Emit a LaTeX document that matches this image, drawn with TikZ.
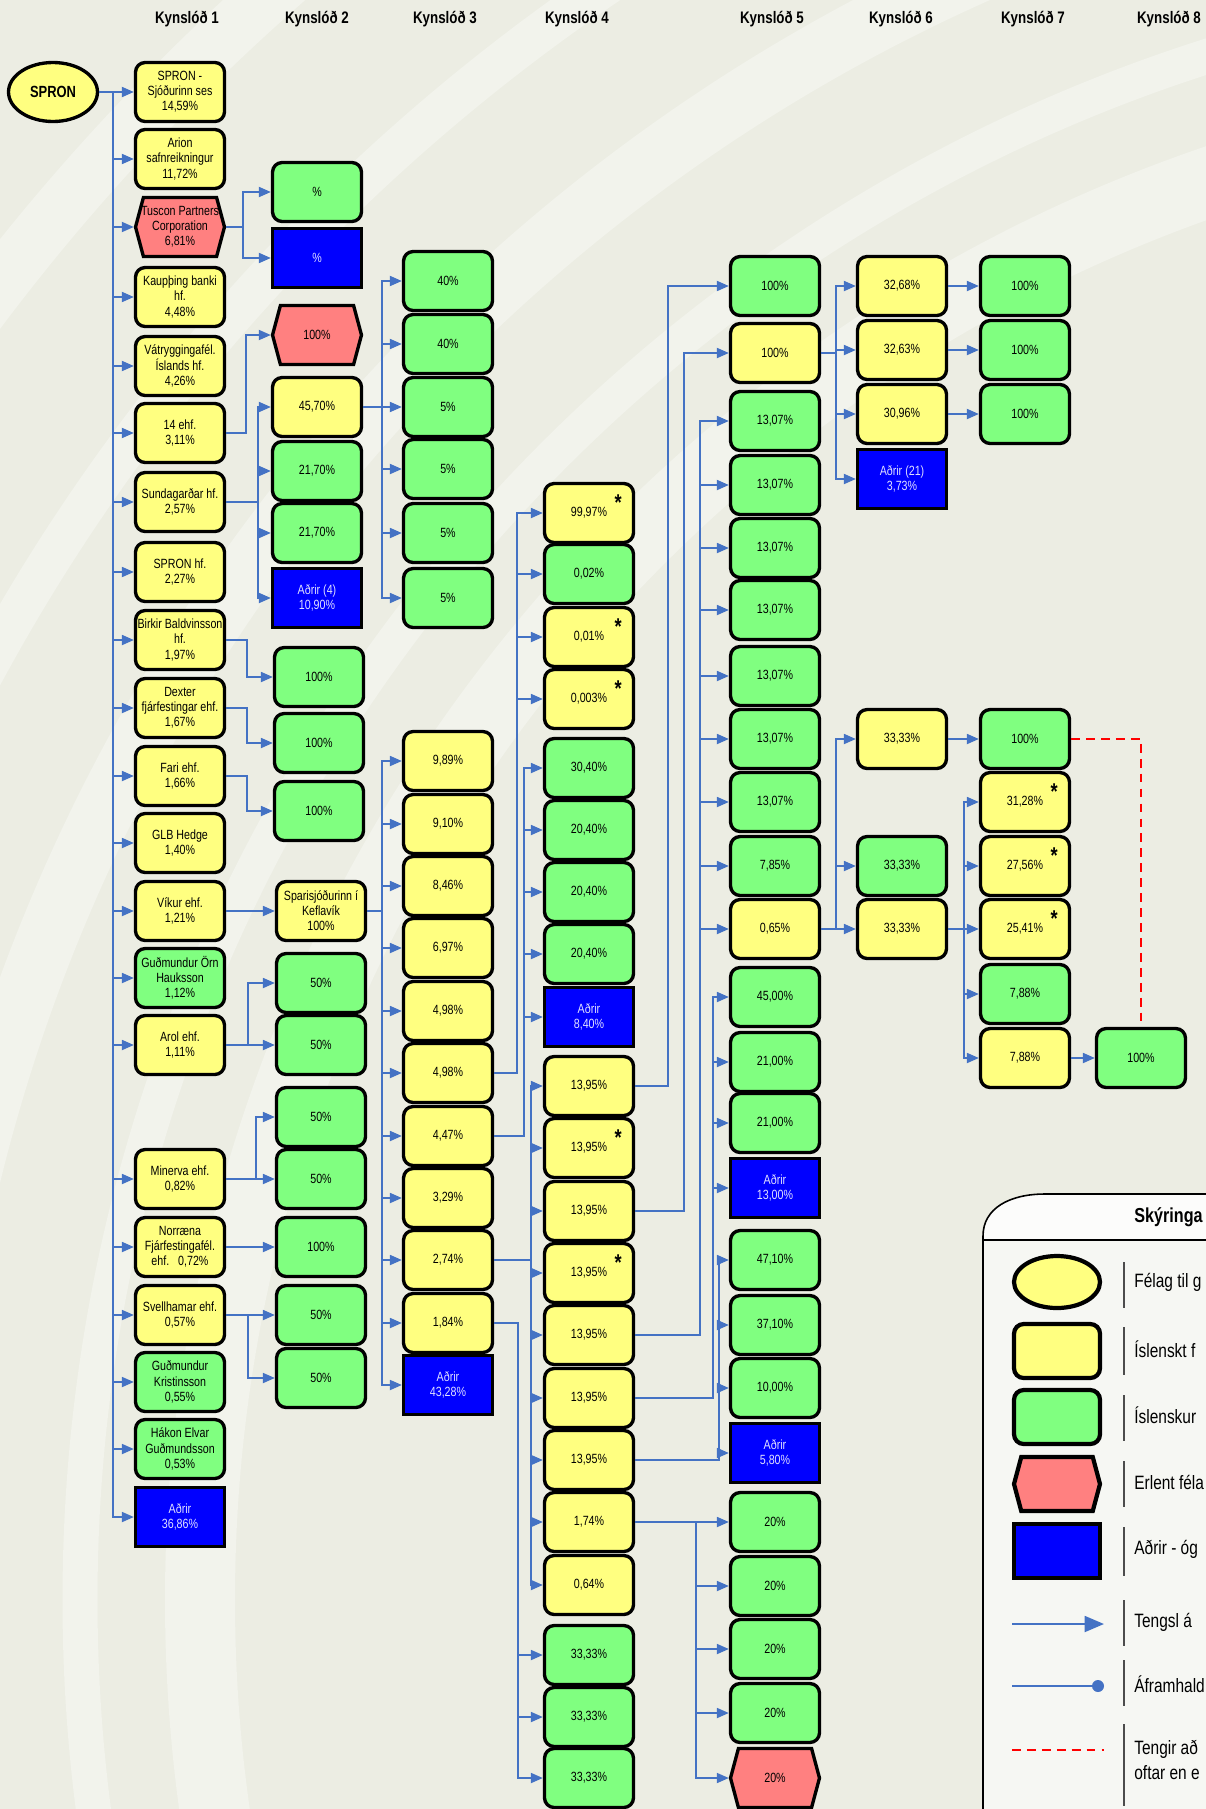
\documentclass[tikz,border=0pt]{standalone}
\usepackage{fontspec}
\setmainfont[FakeStretch=0.8]{Liberation Sans}
\usetikzlibrary{arrows.meta,shapes.geometric,shapes.symbols}
\definecolor{bgc}{RGB}{236,237,227}
\definecolor{bgl}{RGB}{242,243,236}
\definecolor{gul}{RGB}{255,255,128}
\definecolor{gra}{RGB}{128,255,128}
\definecolor{rau}{RGB}{255,128,128}
\definecolor{bla}{RGB}{0,0,255}
\definecolor{lin}{RGB}{68,114,196}

\begin{document}
\begin{tikzpicture}[x=0.02cm,y=-0.02cm,
  box/.style={draw=black,line width=1.9pt,minimum width=1.78cm,minimum height=1.18cm,inner sep=1pt,align=center,font=\fontsize{7.6}{8.6}\selectfont},
  yel/.style={box,rounded corners=5.5pt,fill=gul},
  grn/.style={box,rounded corners=5.5pt,fill=gra},
  blu/.style={box,fill=bla,text=white!88!blue},
  hexa/.style={box,shape=signal,signal to=east and west,signal pointer angle=150,fill=rau},
  ell/.style={box,shape=ellipse,fill=gul,font=\fontsize{9.2}{11}\selectfont\bfseries},
  arr/.style={draw=lin,line width=1pt,-{Triangle[length=6.8pt,width=5.7pt]}},
  hd/.style={font=\fontsize{9.5}{11}\selectfont\bfseries},
  st/.style={font=\fontsize{13}{13}\selectfont\bfseries,inner sep=0pt},
  lgs/.style={line width=2.4pt,minimum width=1.72cm,minimum height=1.08cm},
  lg/.style={anchor=west,inner sep=0pt,font=\fontsize{11}{14}\selectfont}]
  \useasboundingbox (0,0) rectangle (1206,1809);
  \clip (0,0) rectangle (1206,1809);
  % bakgrunnur
  \fill[bgc] (0,0) rectangle (1206,1809);
  \foreach \r/\w in {1500/70,1620/35,1780/60,1950/40,2150/55}
    \draw[bgl,line width=\w*0.02cm] (1700,1600) circle[radius=\r];

  % fyrirsagnir
  \node[hd] (kh1) at (187,19) {Kynslóð 1};
  \node[hd] (kh2) at (317,19) {Kynslóð 2};
  \node[hd] (kh3) at (445,19) {Kynslóð 3};
  \node[hd] (kh4) at (577,19) {Kynslóð 4};
  \node[hd] (kh5) at (772,19) {Kynslóð 5};
  \node[hd] (kh6) at (901,19) {Kynslóð 6};
  \node[hd] (kh7) at (1033,19) {Kynslóð 7};
  \node[hd] (kh8) at (1169,19) {Kynslóð 8};

  % SPRON og kynslóð 1
  \node[ell] (s0) at (53,92) {SPRON};
  \node[yel] (a1) at (180,92) {SPRON -\\Sjóðurinn ses\\14,59\%};
  \node[yel] (a2) at (180,159) {Arion\\safnreikningur\\11,72\%};
  \node[hexa,inner xsep=-4pt] (a3) at (180,227) {Tuscon Partners\\Corporation\\6,81\%};
  \node[yel] (a4) at (180,297) {Kaupþing banki\\hf.\\4,48\%};
  \node[yel] (a5) at (180,366) {Vátryggingafél.\\Íslands hf.\\4,26\%};
  \node[yel] (a6) at (180,433) {14 ehf.\\3,11\%};
  \node[yel] (a7) at (180,502) {Sundagarðar hf.\\2,57\%};
  \node[yel] (a8) at (180,572) {SPRON hf.\\2,27\%};
  \node[yel] (a9) at (180,640) {Birkir Baldvinsson\\hf.\\1,97\%};
  \node[yel] (a10) at (180,708) {Dexter\\fjárfestingar ehf.\\1,67\%};
  \node[yel] (a11) at (180,776) {Fari ehf.\\1,66\%};
  \node[yel] (a12) at (180,843) {GLB Hedge\\1,40\%};
  \node[yel] (a13) at (180,911) {Víkur ehf.\\1,21\%};
  \node[grn] (a14) at (180,978) {Guðmundur Örn\\Hauksson\\1,12\%};
  \node[yel] (a15) at (180,1045) {Arol ehf.\\1,11\%};
  \node[yel] (a16) at (180,1179) {Minerva ehf.\\0,82\%};
  \node[yel] (a17) at (180,1247) {Norræna\\Fjárfestingafél.\\ehf.\ \ \ 0,72\%};
  \node[yel] (a18) at (180,1315) {Svellhamar ehf.\\0,57\%};
  \node[grn] (a19) at (180,1382) {Guðmundur\\Kristinsson\\0,55\%};
  \node[grn] (a20) at (180,1449) {Hákon Elvar\\Guðmundsson\\0,53\%};
  \node[blu] (a21) at (180,1517) {Aðrir\\36,86\%};

  % kynslóð 2
  \node[grn] (b1) at (317,192) {\%};
  \node[blu] (b2) at (317,258) {\%};
  \node[hexa] (b3) at (317,335) {100\%};
  \node[yel] (b4) at (317,407) {45,70\%};
  \node[grn] (b5) at (317,471) {21,70\%};
  \node[grn] (b6) at (317,533) {21,70\%};
  \node[blu] (b7) at (317,598) {Aðrir (4)\\10,90\%};
  \node[grn] (b8) at (319,677) {100\%};
  \node[grn] (b9) at (319,743) {100\%};
  \node[grn] (b10) at (319,811) {100\%};
  \node[yel] (b11) at (321,911) {Sparisjóðurinn í\\Keflavík\\100\%};
  \node[grn] (b12) at (321,983) {50\%};
  \node[grn] (b13) at (321,1045) {50\%};
  \node[grn] (b14) at (321,1117) {50\%};
  \node[grn] (b15) at (321,1179) {50\%};
  \node[grn] (b16) at (321,1247) {100\%};
  \node[grn] (b17) at (321,1315) {50\%};
  \node[grn] (b18) at (321,1378) {50\%};

  % kynslóð 3
  \node[grn] (c1) at (448,281) {40\%};
  \node[grn] (c2) at (448,344) {40\%};
  \node[grn] (c3) at (448,407) {5\%};
  \node[grn] (c4) at (448,469) {5\%};
  \node[grn] (c5) at (448,533) {5\%};
  \node[grn] (c6) at (448,598) {5\%};
  \node[yel] (c7) at (448,761) {9,89\%};
  \node[yel] (c8) at (448,824) {9,10\%};
  \node[yel] (c9) at (448,886) {8,46\%};
  \node[yel] (c10) at (448,948) {6,97\%};
  \node[yel] (c11) at (448,1011) {4,98\%};
  \node[yel] (c12) at (448,1073) {4,98\%};
  \node[yel] (c13) at (448,1136) {4,47\%};
  \node[yel] (c14) at (448,1198) {3,29\%};
  \node[yel] (c15) at (448,1260) {2,74\%};
  \node[yel] (c16) at (448,1323) {1,84\%};
  \node[blu] (c17) at (448,1385) {Aðrir\\43,28\%};

  % kynslóð 4
  \node[yel] (d1) at (589,513) {99,97\%};
  \node[grn] (d2) at (589,574) {0,02\%};
  \node[yel] (d3) at (589,637) {0,01\%};
  \node[yel] (d4) at (589,699) {0,003\%};
  \node[grn] (d5) at (589,768) {30,40\%};
  \node[grn] (d6) at (589,830) {20,40\%};
  \node[grn] (d7) at (589,892) {20,40\%};
  \node[grn] (d8) at (589,954) {20,40\%};
  \node[blu] (d9) at (589,1017) {Aðrir\\8,40\%};
  \node[yel] (d10) at (589,1086) {13,95\%};
  \node[yel] (d11) at (589,1148) {13,95\%};
  \node[yel] (d12) at (589,1211) {13,95\%};
  \node[yel] (d13) at (589,1273) {13,95\%};
  \node[yel] (d14) at (589,1335) {13,95\%};
  \node[yel] (d15) at (589,1398) {13,95\%};
  \node[yel] (d16) at (589,1460) {13,95\%};
  \node[yel] (d17) at (589,1522) {1,74\%};
  \node[yel] (d18) at (589,1585) {0,64\%};
  \node[grn] (d19) at (589,1655) {33,33\%};
  \node[grn] (d20) at (589,1717) {33,33\%};
  \node[grn] (d21) at (589,1778) {33,33\%};

  % kynslóð 5
  \node[grn] (e1) at (775,286) {100\%};
  \node[yel] (e2) at (775,353) {100\%};
  \node[grn] (e3) at (775,421) {13,07\%};
  \node[grn] (e4) at (775,485) {13,07\%};
  \node[grn] (e5) at (775,548) {13,07\%};
  \node[grn] (e6) at (775,610) {13,07\%};
  \node[grn] (e7) at (775,676) {13,07\%};
  \node[grn] (e8) at (775,739) {13,07\%};
  \node[grn] (e9) at (775,802) {13,07\%};
  \node[grn] (e10) at (775,866) {7,85\%};
  \node[yel] (e11) at (775,929) {0,65\%};
  \node[grn] (e12) at (775,997) {45,00\%};
  \node[grn] (e13) at (775,1062) {21,00\%};
  \node[grn] (e14) at (775,1123) {21,00\%};
  \node[blu] (e15) at (775,1188) {Aðrir\\13,00\%};
  \node[grn] (e16) at (775,1260) {47,10\%};
  \node[grn] (e17) at (775,1325) {37,10\%};
  \node[grn] (e18) at (775,1388) {10,00\%};
  \node[blu] (e19) at (775,1453) {Aðrir\\5,80\%};
  \node[grn] (e20) at (775,1522) {20\%};
  \node[grn] (e21) at (775,1586) {20\%};
  \node[grn] (e22) at (775,1649) {20\%};
  \node[grn] (e23) at (775,1713) {20\%};
  \node[hexa] (e24) at (775,1778) {20\%};

  % kynslóð 6, 7 og 8
  \node[yel] (f1) at (902,286) {32,68\%};
  \node[yel] (f2) at (902,350) {32,63\%};
  \node[yel] (f3) at (902,414) {30,96\%};
  \node[blu] (f4) at (902,479) {Aðrir (21)\\3,73\%};
  \node[yel] (f5) at (902,739) {33,33\%};
  \node[grn] (f6) at (902,866) {33,33\%};
  \node[yel] (f7) at (902,929) {33,33\%};
  \node[grn] (g1) at (1025,286) {100\%};
  \node[grn] (g2) at (1025,350) {100\%};
  \node[grn] (g3) at (1025,414) {100\%};
  \node[grn] (g4) at (1025,739) {100\%};
  \node[yel] (g5) at (1025,802) {31,28\%};
  \node[yel] (g6) at (1025,866) {27,56\%};
  \node[yel] (g7) at (1025,929) {25,41\%};
  \node[grn] (g8) at (1025,994) {7,88\%};
  \node[yel] (g9) at (1025,1058) {7,88\%};
  \node[grn] (h1) at (1141,1058) {100\%};

  % stjornur
  \foreach \n in {d1,d3,d4,d11,d13,g5,g6,g7}
    \node[st] (s\n) at ([xshift=-0.34cm,yshift=-0.42cm]\n.north east) {*};

  % x-hnit greinanna
  \coordinate (tr) at (113,0);
  \coordinate (x1) at (243,0); \coordinate (x2) at (246,0); \coordinate (x3) at (258,0);
  \coordinate (x4) at (247,0); \coordinate (x5) at (248,0); \coordinate (x6) at (256,0);
  \coordinate (x7) at (382,0); \coordinate (x8) at (517,0); \coordinate (x9) at (524,0);
  \coordinate (x10) at (531,0); \coordinate (x11) at (518,0); \coordinate (x12) at (668,0);
  \coordinate (x13) at (684,0); \coordinate (x14) at (700,0); \coordinate (x15) at (713,0);
  \coordinate (x16) at (719,0); \coordinate (x17) at (696,0); \coordinate (x18) at (836,0);
  \coordinate (x19) at (964,0);

  % SPRON -> kynslod 1
  \draw[lin,line width=1.6pt] (s0.east) -- (s0.east -| tr) -- (tr |- a21.west);
  \foreach \i in {1,...,21}
    \draw[arr] (s0.east) -- (s0.east -| tr) |- (a\i.west);
  % kynslod 1 -> 2
  \foreach \t in {b1,b2} \draw[arr] (a3.east) -- (a3.east -| x1) |- (\t.west);
  \draw[arr] (a6.east) -- (a6.east -| x2) |- (b3.west);
  \foreach \t in {b4,b5,b6,b7} \draw[arr] (a7.east) -- (a7.east -| x3) |- (\t.west);
  \draw[arr] (a9.east) -- (a9.east -| x4) |- (b8.west);
  \draw[arr] (a10.east) -- (a10.east -| x4) |- (b9.west);
  \draw[arr] (a11.east) -- (a11.east -| x4) |- (b10.west);
  \draw[arr] (a13.east) -- (b11.west);
  \foreach \t in {b12,b13} \draw[arr] (a15.east) -- (a15.east -| x5) |- (\t.west);
  \foreach \t in {b14,b15} \draw[arr] (a16.east) -- (a16.east -| x6) |- (\t.west);
  \draw[arr] (a17.east) -- (b16.west);
  \foreach \t in {b17,b18} \draw[arr] (a18.east) -- (a18.east -| x5) |- (\t.west);
  % kynslod 2 -> 3
  \foreach \i in {1,...,6} \draw[arr] (b4.east) -- (b4.east -| x7) |- (c\i.west);
  \foreach \i in {7,...,17} \draw[arr] (b11.east) -- (b11.east -| x7) |- (c\i.west);
  % kynslod 3 -> 4
  \foreach \i in {1,...,4} \draw[arr] (c12.east) -- (c12.east -| x8) |- (d\i.west);
  \foreach \i in {5,...,9} \draw[arr] (c13.east) -- (c13.east -| x9) |- (d\i.west);
  \foreach \i in {10,...,18} \draw[arr] (c15.east) -- (c15.east -| x10) |- (d\i.west);
  \foreach \i in {19,20,21} \draw[arr] (c16.east) -- (c16.east -| x11) |- (d\i.west);
  % kynslod 4 -> 5
  \draw[arr] (d10.east) -- (d10.east -| x12) |- (e1.west);
  \draw[arr] (d12.east) -- (d12.east -| x13) |- (e2.west);
  \foreach \i in {3,...,11} \draw[arr] (d14.east) -- (d14.east -| x14) |- (e\i.west);
  \foreach \i in {12,...,15} \draw[arr] (d15.east) -- (d15.east -| x15) |- (e\i.west);
  \foreach \i in {16,...,19} \draw[arr] (d16.east) -- (d16.east -| x16) |- (e\i.west);
  \foreach \i in {20,...,24} \draw[arr] (d17.east) -- (d17.east -| x17) |- (e\i.west);
  % kynslod 5 -> 6 -> 7 -> 8
  \foreach \i in {1,...,4} \draw[arr] (e2.east) -- (e2.east -| x18) |- (f\i.west);
  \foreach \i in {5,6,7} \draw[arr] (e11.east) -- (e11.east -| x18) |- (f\i.west);
  \draw[arr] (f1.east) -- (g1.west);
  \draw[arr] (f2.east) -- (g2.west);
  \draw[arr] (f3.east) -- (g3.west);
  \draw[arr] (f5.east) -- (g4.west);
  \foreach \i in {5,...,9} \draw[arr] (f7.east) -- (f7.east -| x19) |- (g\i.west);
  \draw[arr] (g9.east) -- (h1.west);
  \draw[red,line width=1.3pt,dash pattern=on 5pt off 3.5pt] (g4.east) -| (h1.north);

  % skyringar
  \fill[white!55!bgc] (983,1815) -- (983,1236) .. controls (983,1208) and (1010,1194) .. (1045,1194) -- (1215,1194) -- (1215,1815) -- cycle;
  \fill[white!85!bgc] (983,1240) -- (983,1236) .. controls (983,1208) and (1010,1194) .. (1045,1194) -- (1215,1194) -- (1215,1240) -- cycle;
  \draw[line width=0.9pt] (983,1815) -- (983,1236) .. controls (983,1208) and (1010,1194) .. (1045,1194) -- (1215,1194);
  \draw[line width=0.9pt] (983,1240) -- (1215,1240);
  \node[lg,font=\fontsize{11.5}{14}\selectfont\bfseries] (lt0) at (1134,1217) {Skýringa};
  \node[ell,lgs,minimum height=1.04cm] (le1) at (1057,1282) {};
  \node[yel,lgs] (le2) at (1057,1351) {};
  \node[grn,lgs] (le3) at (1057,1417) {};
  \node[hexa,lgs] (le4) at (1057,1484) {};
  \node[blu,lgs] (le5) at (1057,1551) {};
  \coordinate (la1) at (1012,1624); \coordinate (la2) at (1104,1624);
  \coordinate (lb1) at (1012,1686); \coordinate (lb2) at (1098,1686);
  \coordinate (lc1) at (1012,1750); \coordinate (lc2) at (1104,1750);
  \draw[lin,line width=1.4pt,-{Triangle[length=11pt,width=9pt]}] (la1) -- (la2);
  \draw[lin,line width=1.4pt] (lb1) -- (lb2); \fill[lin] (lb2) circle[radius=6];
  \draw[red,line width=1.4pt,dash pattern=on 5pt off 3.5pt] (lc1) -- (lc2);
  \foreach \a/\b in {1262/1308,1327/1375,1395/1441,1461/1507,1527/1576,1600/1646,1660/1706,1724/1806}
    \draw[black!70,line width=0.6pt] (1124,\a) -- (1124,\b);
  \node[lg] (lt1) at (1134,1282) {Félag til g};
  \node[lg] (lt2) at (1134,1349) {Íslenskt f};
  \node[lg] (lt3) at (1134,1415) {Íslenskur};
  \node[lg] (lt4) at (1134,1482) {Erlent féla};
  \node[lg] (lt5) at (1134,1549) {Aðrir - óg};
  \node[lg] (lt6) at (1134,1622) {Tengsl á};
  \node[lg] (lt7) at (1134,1684) {Áframhald};
  \node[lg,align=left] (lt8) at (1134,1760) {Tengir að\\oftar en e};
\end{tikzpicture}
\end{document}
